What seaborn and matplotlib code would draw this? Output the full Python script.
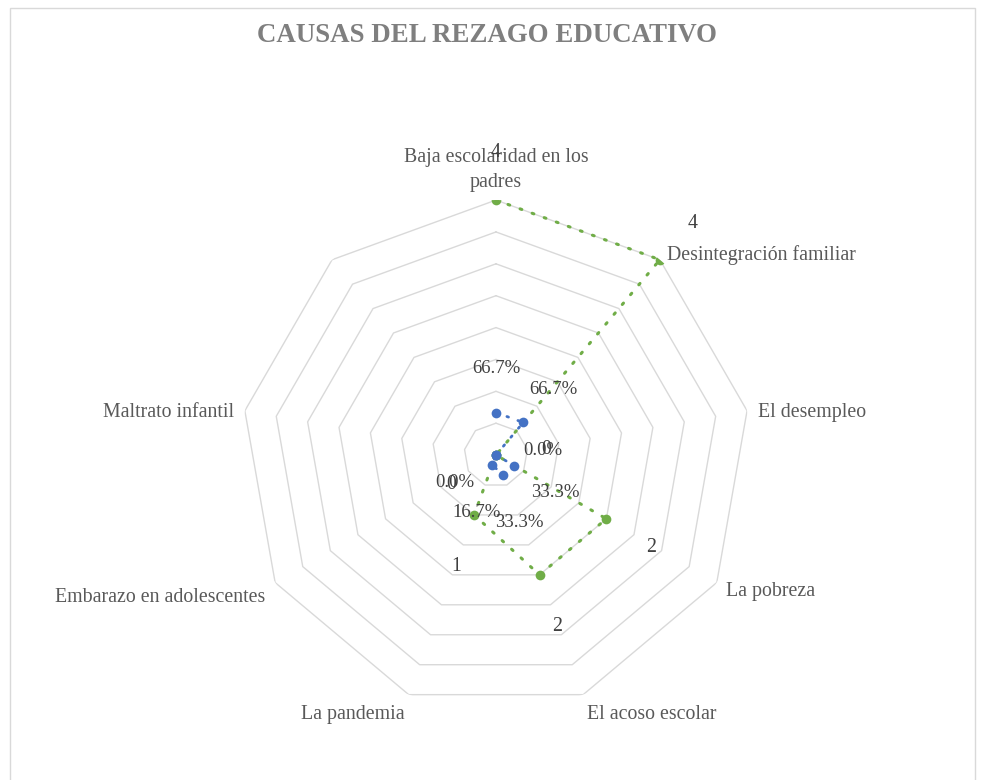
import numpy as np
import pandas as pd
import matplotlib.pyplot as plt
import matplotlib.patches as mpatches
import seaborn as sns

categories = ["Baja escolaridad en los\npadres", "Desintegración familiar", "El desempleo",
              "La pobreza", "El acoso escolar", "La pandemia", "Embarazo en adolescentes",
              "Maltrato infantil", ""]
frecuencia = [4, 4, 0, 2, 2, 1, 0, np.nan, np.nan]
porcentaje = [0.667, 0.667, 0.0, 0.333, 0.333, 0.167, 0.0, np.nan, np.nan]
grid_levels = [0.5, 1.0, 1.5, 2.0, 2.5, 3.0, 3.5, 4.0]

green = "#70ad47"
blue = "#4472c4"

sns.set_theme(style="white")
plt.rcParams["font.family"] = ["Liberation Serif", "DejaVu Serif"]

n = len(categories)
theta = np.arange(n) * 2 * np.pi / n
df = pd.DataFrame({"theta": theta, "frecuencia": frecuencia, "porcentaje": porcentaje})

fig = plt.figure(figsize=(9.82, 7.8), dpi=100)
ax = fig.add_axes([0.2454, 0.0897, 0.5193, 0.6538], projection="polar")
ax.set_theta_zero_location("N")
ax.set_theta_direction(-1)

# web rings
ring_theta = np.append(theta, theta[0])
for lev in grid_levels:
    ax.plot(ring_theta, [lev] * len(ring_theta), color="#d9d9d9", lw=1.0, zorder=1)

# series
dots = (0, (0.6, 3.6))
sns.lineplot(data=df, x="theta", y="frecuencia", sort=False, estimator=None, ax=ax,
             color=green, marker="o", markersize=7, markeredgewidth=0,
             linewidth=2.2, linestyle=dots, dash_capstyle="round", zorder=3)
sns.lineplot(data=df, x="theta", y="porcentaje", sort=False, estimator=None, ax=ax,
             color=blue, marker="o", markersize=7, markeredgewidth=0,
             linewidth=2.0, linestyle=dots, dash_capstyle="round", zorder=4)

ax.set_ylim(0, 4)
ax.set_xticks([])
ax.set_yticks([])
ax.grid(False)
ax.spines["polar"].set_visible(False)
ax.set_facecolor("none")
ax.set_xlabel("")
ax.set_ylabel("")

# category labels
for th, cat in zip(theta, categories):
    s, c = np.sin(th), np.cos(th)
    ha = "left" if s > 0.05 else ("right" if s < -0.05 else "center")
    va = "bottom" if c > 0.95 else "center"
    yoff = 8 * c - 2.5
    if c < -0.5:
        yoff -= 4
    ax.annotate(cat, xy=(th, 4), xytext=(8 * s, yoff), textcoords="offset points",
                ha=ha, va=va, fontsize=14.3, color="#595959", linespacing=1.45,
                multialignment="center", annotation_clip=False)

# data labels
for th, f, p in zip(theta, frecuencia, porcentaje):
    if np.isnan(f):
        continue
    s, c = np.sin(th), np.cos(th)
    ax.annotate(f"{f:g}", xy=(th, f), xytext=(37 * s, 37 * c - 2.5), textcoords="offset points",
                ha="center", va="center", fontsize=14.3, color="#404040", annotation_clip=False)
    ax.annotate(f"{p:.1%}", xy=(th, p), xytext=(34 * s, 34 * c - 2.5), textcoords="offset points",
                ha="center", va="center", fontsize=13.5, color="#404040", annotation_clip=False)

fig.text(0.496, 1 - 42 / 780, "CAUSAS DEL REZAGO EDUCATIVO", ha="center", va="baseline",
         fontsize=19.4, fontweight="bold", color="#7f7f7f")

fig.add_artist(mpatches.Rectangle((10 / 982, -0.01), 965 / 982, 1 - 8 / 780 + 0.01,
                                  transform=fig.transFigure, fill=False,
                                  edgecolor="#d9d9d9", lw=1.0))

fig.savefig("out.png", dpi=100)
